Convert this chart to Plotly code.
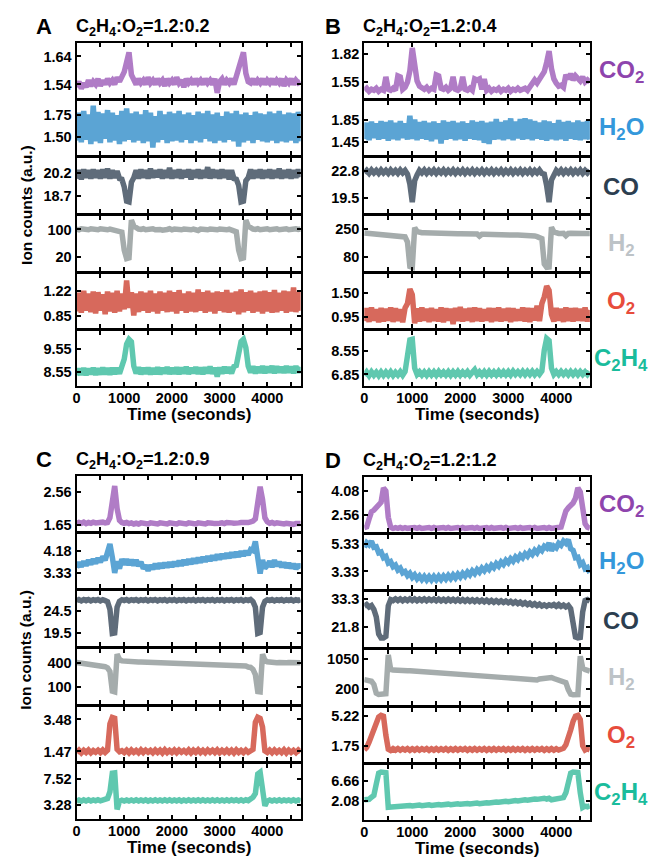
import plotly.graph_objects as go

W, H = 651, 867
TIME = list(range(0, 4701, 50))  # sampling grid, seconds (95 points)

GASES = ["CO2", "H2O", "CO", "H2", "O2", "C2H4"]
GAS_LABELS = ["CO<sub>2</sub>", "H<sub>2</sub>O", "CO", "H<sub>2</sub>", "O<sub>2</sub>", "C<sub>2</sub>H<sub>4</sub>"]
LINE_COLORS = ["#b07cc6", "#5ba4d4", "#5f6c7a", "#a5acac", "#d7695c", "#5fc8af"]
LABEL_COLORS = ["#8e44ad", "#3498db", "#2c3e50", "#bdc3c7", "#e74c3c", "#1abc9c"]
X_TICKS = [0, 500, 1000, 1500, 2000, 2500, 3000, 3500, 4000, 4500]
X_TICKTEXT = ["0", "", "1000", "", "2000", "", "3000", "", "4000", ""]

# ---------------- Panel A : C2H4:O2 = 1.2:0.2 ----------------
A_CO2 = [
    1.53, 1.55, 1.525, 1.545, 1.53, 1.555, 1.535, 1.55, 1.54, 1.56,
    1.535, 1.555, 1.54, 1.56, 1.545, 1.555, 1.54, 1.565, 1.55, 1.565,
    1.585, 1.62, 1.655, 1.575, 1.55, 1.54, 1.56, 1.545, 1.555, 1.54,
    1.565, 1.545, 1.555, 1.54, 1.56, 1.545, 1.555, 1.535, 1.56, 1.545,
    1.555, 1.54, 1.565, 1.545, 1.555, 1.53, 1.56, 1.545, 1.555, 1.54,
    1.56, 1.545, 1.555, 1.54, 1.56, 1.545, 1.555, 1.54, 1.56, 1.51,
    1.55, 1.56, 1.54, 1.555, 1.545, 1.56, 1.54, 1.565, 1.59, 1.63,
    1.655, 1.58, 1.55, 1.545, 1.56, 1.54, 1.555, 1.545, 1.56, 1.54,
    1.555, 1.545, 1.56, 1.54, 1.555, 1.545, 1.56, 1.535, 1.555, 1.545,
    1.56, 1.54, 1.555, 1.545, 1.55]
A_H2O = [
    1.46, 1.78, 1.44, 1.80, 1.47, 1.76, 1.42, 1.86, 1.45, 1.79,
    1.43, 1.77, 1.48, 1.81, 1.44, 1.78, 1.46, 1.75, 1.42, 1.80,
    1.45, 1.83, 1.47, 1.77, 1.44, 1.79, 1.46, 1.76, 1.43, 1.81,
    1.45, 1.78, 1.38, 1.74, 1.44, 1.80, 1.47, 1.76, 1.43, 1.79,
    1.45, 1.77, 1.46, 1.80, 1.44, 1.76, 1.47, 1.78, 1.43, 1.75,
    1.46, 1.79, 1.44, 1.77, 1.48, 1.80, 1.45, 1.76, 1.43, 1.78,
    1.46, 1.74, 1.44, 1.79, 1.47, 1.77, 1.45, 1.80, 1.39, 1.76,
    1.44, 1.78, 1.46, 1.75, 1.43, 1.79, 1.47, 1.77, 1.45, 1.76,
    1.44, 1.79, 1.46, 1.77, 1.43, 1.80, 1.45, 1.76, 1.44, 1.78,
    1.46, 1.77, 1.43, 1.79, 1.45]
A_CO = [
    19.85, 20.4, 19.8, 20.45, 19.9, 20.4, 19.85, 20.45, 19.9, 20.4,
    19.85, 20.45, 19.9, 20.5, 19.85, 20.4, 19.9, 20.35, 19.85, 19.8,
    19.3, 18.35, 18.3, 19.6, 19.9, 20.4, 19.85, 20.45, 19.9, 20.4,
    19.85, 20.5, 19.9, 20.4, 19.95, 20.45, 19.85, 20.4, 19.9, 20.55,
    19.85, 20.4, 19.9, 20.45, 19.85, 20.4, 19.95, 20.45, 19.8, 20.4,
    19.9, 20.45, 19.85, 20.4, 19.9, 20.6, 19.85, 20.45, 19.9, 20.4,
    19.85, 20.45, 19.9, 20.4, 19.8, 20.4, 19.85, 19.8, 19.4, 18.3,
    18.35, 19.7, 19.9, 20.45, 19.85, 20.4, 19.9, 20.45, 19.85, 20.4,
    19.9, 20.45, 19.85, 20.4, 19.9, 20.5, 19.85, 20.4, 19.9, 20.45,
    19.85, 20.4, 19.9, 20.45, 19.95]
A_H2 = [
    101, 99, 102, 100, 101, 99, 102, 100, 101, 99,
    102, 100, 101, 99, 101, 100, 98, 97, 95, 92,
    40, 15, 17, 127, 110, 103, 101, 100, 102, 99,
    101, 100, 102, 99, 101, 100, 98, 101, 100, 102,
    99, 101, 100, 102, 99, 101, 100, 102, 99, 101,
    100, 97, 101, 100, 102, 99, 101, 100, 102, 99,
    101, 100, 102, 99, 101, 98, 96, 93, 40, 15,
    17, 127, 110, 103, 101, 100, 102, 99, 101, 100,
    102, 99, 101, 100, 102, 99, 101, 100, 102, 99,
    101, 100, 102, 100, 101]
A_O2 = [
    0.92, 1.19, 0.90, 1.22, 0.93, 1.18, 0.91, 1.21, 0.89, 1.20,
    0.93, 1.17, 0.88, 1.21, 0.92, 1.19, 0.90, 1.22, 0.92, 1.18,
    0.95, 1.37, 0.97, 1.20, 0.86, 1.18, 0.91, 1.21, 0.93, 1.19,
    0.90, 1.22, 0.92, 1.18, 0.89, 1.21, 0.93, 1.19, 0.91, 1.22,
    0.92, 1.20, 0.89, 1.23, 0.93, 1.18, 0.90, 1.21, 0.92, 1.19,
    0.91, 1.24, 0.93, 1.20, 0.90, 1.22, 0.92, 1.19, 0.89, 1.21,
    0.93, 1.20, 0.91, 1.23, 0.90, 1.19, 0.92, 1.21, 0.88, 1.24,
    0.91, 1.20, 0.93, 1.22, 0.90, 1.19, 0.92, 1.21, 0.89, 1.22,
    0.92, 1.20, 0.90, 1.23, 0.91, 1.19, 0.93, 1.22, 0.90, 1.21,
    0.92, 1.27, 0.91, 1.20, 0.93]
A_C2H4 = [
    8.40, 8.68, 8.43, 8.71, 8.41, 8.69, 8.45, 8.72, 8.42, 8.70,
    8.44, 8.73, 8.45, 8.70, 8.43, 8.72, 8.46, 8.71, 8.47, 8.76,
    9.10, 9.75, 9.95, 9.85, 8.80, 8.48, 8.74, 8.45, 8.72, 8.47,
    8.73, 8.44, 8.71, 8.46, 8.74, 8.45, 8.72, 8.48, 8.75, 8.46,
    8.72, 8.47, 8.74, 8.45, 8.73, 8.48, 8.76, 8.46, 8.72, 8.49,
    8.75, 8.47, 8.73, 8.45, 8.74, 8.49, 8.77, 8.47, 8.73, 8.35,
    8.74, 8.48, 8.76, 8.50, 8.75, 8.48, 8.78, 8.82, 9.45, 9.85,
    9.95, 9.60, 8.80, 8.52, 8.78, 8.49, 8.76, 8.51, 8.79, 8.50,
    8.77, 8.52, 8.80, 8.50, 8.78, 8.53, 8.76, 8.51, 8.79, 8.52,
    8.77, 8.50, 8.79, 8.52, 8.76]

# ---------------- Panel B : C2H4:O2 = 1.2:0.4 ----------------
B_CO2 = [
    1.47, 1.49, 1.46, 1.48, 1.47, 1.49, 1.46, 1.48, 1.47, 1.60,
    1.48, 1.47, 1.49, 1.47, 1.61, 1.60, 1.48, 1.50, 1.55, 1.66,
    1.88, 1.70, 1.56, 1.51, 1.49, 1.48, 1.50, 1.47, 1.49, 1.48,
    1.62, 1.61, 1.49, 1.48, 1.50, 1.47, 1.49, 1.60, 1.48, 1.47,
    1.49, 1.60, 1.48, 1.47, 1.49, 1.47, 1.58, 1.57, 1.58, 1.48,
    1.58, 1.47, 1.49, 1.46, 1.48, 1.47, 1.49, 1.46, 1.48, 1.47,
    1.49, 1.46, 1.48, 1.47, 1.49, 1.47, 1.48, 1.49, 1.47, 1.50,
    1.55, 1.57, 1.54, 1.58, 1.60, 1.65, 1.74, 1.85, 1.68, 1.58,
    1.54, 1.51, 1.52, 1.50, 1.62, 1.58, 1.63, 1.57, 1.61, 1.58,
    1.56, 1.60, 1.55, 1.57, 1.55]
B_H2O = [
    1.50, 1.80, 1.48, 1.82, 1.52, 1.79, 1.49, 1.83, 1.51, 1.81,
    1.47, 1.84, 1.50, 1.80, 1.48, 1.83, 1.52, 1.79, 1.49, 1.93,
    1.50, 1.86, 1.48, 1.81, 1.51, 1.83, 1.49, 1.80, 1.46, 1.82,
    1.50, 1.79, 1.42, 1.84, 1.49, 1.81, 1.51, 1.83, 1.48, 1.80,
    1.50, 1.82, 1.47, 1.79, 1.51, 1.84, 1.49, 1.81, 1.48, 1.83,
    1.43, 1.80, 1.41, 1.82, 1.49, 1.87, 1.50, 1.81, 1.48, 1.84,
    1.50, 1.88, 1.48, 1.82, 1.51, 1.87, 1.49, 1.88, 1.50, 1.86,
    1.48, 1.83, 1.51, 1.80, 1.49, 1.84, 1.47, 1.82, 1.50, 1.79,
    1.48, 1.85, 1.50, 1.81, 1.47, 1.83, 1.51, 1.80, 1.49, 1.84,
    1.48, 1.81, 1.50, 1.83, 1.49]
B_CO = [
    22.55, 22.85, 22.5, 22.9, 22.55, 22.85, 22.5, 22.9, 22.55, 22.85,
    22.5, 22.9, 22.55, 22.85, 22.5, 22.9, 22.55, 22.85, 22.4, 21.2,
    19.0, 21.6, 22.3, 22.85, 22.55, 22.9, 22.5, 22.85, 22.55, 22.9,
    22.5, 22.85, 22.55, 22.9, 22.5, 22.85, 22.55, 22.9, 22.5, 22.85,
    22.55, 22.9, 22.5, 22.85, 22.55, 22.9, 22.5, 22.85, 22.55, 22.9,
    22.5, 22.85, 22.55, 22.9, 22.5, 22.85, 22.55, 22.9, 22.5, 22.85,
    22.55, 22.9, 22.5, 22.85, 22.55, 22.9, 22.5, 22.85, 22.55, 22.9,
    22.5, 22.85, 22.55, 22.9, 22.5, 22.4, 21.0, 19.0, 21.7, 22.3,
    22.85, 22.55, 22.9, 22.5, 22.85, 22.55, 22.9, 22.5, 22.85, 22.55,
    22.9, 22.5, 22.85, 22.55, 22.85]
B_H2 = [
    224, 223, 222, 221, 220, 219, 218, 217, 216, 215,
    214, 213, 212, 211, 210, 209, 208, 200, 170, 25,
    20, 255, 232, 226, 225, 225, 224, 224, 223, 223,
    223, 222, 222, 222, 221, 221, 220, 220, 220, 219,
    219, 219, 218, 218, 218, 217, 217, 218, 205, 216,
    216, 215, 215, 215, 214, 214, 214, 213, 213, 213,
    212, 212, 212, 211, 211, 211, 210, 210, 205, 207,
    209, 206, 202, 196, 190, 40, 20, 22, 258, 230,
    222, 221, 221, 222, 208, 221, 222, 220, 221, 221,
    221, 220, 221, 220, 221]
B_O2 = [
    0.85, 1.14, 0.83, 1.16, 0.86, 1.12, 0.82, 1.15, 0.84, 1.13,
    0.86, 1.16, 0.83, 1.14, 0.85, 1.12, 0.82, 1.15, 1.25, 1.58,
    1.45, 0.80, 1.14, 0.84, 1.16, 0.86, 1.13, 0.83, 1.15, 0.85,
    1.12, 0.84, 1.16, 0.82, 1.14, 0.86, 1.13, 0.78, 1.15, 0.85,
    1.17, 0.84, 1.13, 0.86, 1.15, 0.83, 1.16, 0.85, 1.14, 0.84,
    1.12, 0.86, 1.15, 0.83, 1.14, 0.85, 1.16, 0.84, 1.13, 0.86,
    1.15, 0.83, 1.14, 0.85, 1.12, 0.86, 1.16, 0.84, 1.15, 0.83,
    1.14, 0.86, 1.20, 0.85, 1.25, 1.40, 1.65, 1.55, 1.00, 0.84,
    1.15, 0.86, 1.13, 0.83, 1.16, 0.85, 1.14, 0.84, 1.15, 0.86,
    1.13, 0.85, 1.16, 0.84, 1.10]
B_C2H4 = [
    6.78, 7.02, 6.76, 7.04, 6.80, 7.01, 6.77, 7.03, 6.79, 7.02,
    6.80, 7.04, 6.78, 7.01, 6.81, 7.05, 6.79, 7.06, 8.20, 9.35,
    9.40, 7.30, 6.85, 7.04, 6.81, 7.03, 6.79, 7.05, 6.82, 7.04,
    6.80, 7.06, 6.83, 7.03, 6.81, 7.05, 6.80, 7.04, 6.82, 7.06,
    6.81, 7.03, 6.83, 7.05, 6.80, 7.06, 7.20, 6.84, 7.04, 6.82,
    7.05, 6.81, 7.06, 6.83, 7.04, 6.82, 7.07, 6.84, 7.05, 6.83,
    7.06, 6.82, 7.08, 6.85, 7.05, 6.84, 7.07, 6.83, 7.06, 6.85,
    7.08, 6.84, 7.06, 6.86, 7.10, 8.60, 9.45, 9.30, 7.30, 6.85,
    7.06, 6.84, 7.07, 6.85, 7.05, 6.83, 7.06, 6.84, 7.05, 6.83,
    7.06, 6.85, 7.04, 6.84, 7.05]

# ---------------- Panel C : C2H4:O2 = 1.2:0.9 ----------------
C_CO2 = [
    1.69, 1.72, 1.70, 1.73, 1.69, 1.72, 1.70, 1.73, 1.71, 1.72,
    1.70, 1.73, 1.71, 1.72, 1.85, 2.30, 2.72, 2.10, 1.78, 1.72,
    1.70, 1.72, 1.69, 1.71, 1.68, 1.70, 1.68, 1.71, 1.69, 1.70,
    1.68, 1.71, 1.69, 1.70, 1.68, 1.71, 1.69, 1.70, 1.68, 1.71,
    1.69, 1.70, 1.68, 1.71, 1.69, 1.70, 1.68, 1.71, 1.69, 1.70,
    1.68, 1.71, 1.69, 1.70, 1.68, 1.71, 1.69, 1.70, 1.69, 1.71,
    1.70, 1.71, 1.69, 1.72, 1.70, 1.71, 1.70, 1.72, 1.71, 1.72,
    1.71, 1.73, 1.72, 1.74, 1.76, 1.82, 2.25, 2.70, 2.35, 1.85,
    1.74, 1.70, 1.72, 1.69, 1.71, 1.69, 1.70, 1.68, 1.70, 1.68,
    1.69, 1.67, 1.69, 1.68, 1.69]
C_H2O = [
    3.55, 3.75, 3.59, 3.79, 3.63, 3.83, 3.67, 3.87, 3.71, 3.91,
    3.76, 3.97, 3.83, 4.07, 4.45, 3.95, 3.35, 3.79, 3.51, 3.87,
    3.66, 3.86, 3.65, 3.85, 3.63, 3.84, 3.61, 3.77, 3.51, 3.64,
    3.43, 3.64, 3.49, 3.69, 3.51, 3.71, 3.54, 3.73, 3.56, 3.75,
    3.58, 3.77, 3.61, 3.80, 3.63, 3.83, 3.66, 3.86, 3.69, 3.89,
    3.72, 3.92, 3.75, 3.95, 3.78, 3.98, 3.81, 4.01, 3.84, 4.04,
    3.87, 4.06, 3.90, 4.09, 3.92, 4.12, 3.95, 4.14, 3.97, 4.17,
    4.00, 4.19, 4.03, 4.24, 4.20, 4.55, 3.95, 3.32, 3.84, 3.53,
    3.63, 3.79, 3.57, 3.83, 3.61, 3.77, 3.57, 3.74, 3.55, 3.72,
    3.53, 3.69, 3.50, 3.67, 3.52]
C_CO = [
    27.0, 27.3, 27.0, 27.3, 27.05, 27.3, 27.0, 27.25, 27.05, 27.3,
    27.0, 27.25, 27.05, 26.8, 25.0, 19.3, 19.4, 25.5, 26.9, 27.25,
    27.05, 27.3, 27.0, 27.25, 27.05, 27.3, 27.0, 27.25, 27.05, 27.3,
    27.0, 27.25, 27.05, 27.3, 27.0, 27.25, 27.05, 27.3, 27.0, 27.25,
    27.05, 27.3, 27.0, 27.25, 27.05, 27.3, 27.0, 27.25, 27.05, 27.3,
    27.0, 27.25, 27.05, 27.3, 27.0, 27.25, 27.05, 27.3, 27.0, 27.25,
    27.05, 27.3, 27.0, 27.25, 27.05, 27.3, 27.0, 27.25, 27.05, 27.3,
    27.0, 27.25, 27.05, 27.3, 26.8, 25.5, 19.3, 19.5, 25.5, 26.9,
    27.25, 27.05, 27.3, 27.0, 27.25, 27.05, 27.3, 27.0, 27.25, 27.05,
    27.3, 27.0, 27.25, 27.05, 27.3]
C_H2 = [
    402, 398, 396, 392, 390, 386, 382, 378, 374, 370,
    364, 358, 350, 335, 290, 45, 36, 505, 440, 422,
    418, 416, 414, 412, 411, 410, 409, 408, 407, 406,
    405, 404, 403, 402, 401, 400, 399, 398, 397, 396,
    395, 394, 393, 392, 391, 390, 389, 388, 387, 386,
    385, 384, 383, 382, 381, 380, 379, 378, 377, 376,
    375, 374, 373, 372, 371, 370, 369, 368, 366, 364,
    360, 358, 345, 340, 315, 250, 40, 36, 505, 430,
    412, 405, 402, 401, 400, 401, 395, 401, 400, 401,
    400, 401, 400, 401, 400]
C_O2 = [
    1.40, 1.55, 1.38, 1.54, 1.41, 1.56, 1.39, 1.53, 1.42, 1.55,
    1.40, 1.56, 1.41, 1.55, 3.20, 3.60, 3.55, 1.60, 1.45, 1.52,
    1.40, 1.55, 1.38, 1.56, 1.41, 1.53, 1.39, 1.57, 1.40, 1.55,
    1.42, 1.54, 1.39, 1.56, 1.41, 1.55, 1.38, 1.57, 1.40, 1.54,
    1.41, 1.56, 1.39, 1.55, 1.42, 1.53, 1.40, 1.56, 1.38, 1.55,
    1.41, 1.57, 1.40, 1.54, 1.39, 1.56, 1.42, 1.55, 1.40, 1.57,
    1.39, 1.54, 1.41, 1.56, 1.40, 1.55, 1.38, 1.57, 1.41, 1.54,
    1.40, 1.56, 1.42, 1.55, 1.60, 3.30, 3.62, 3.55, 3.00, 1.50,
    1.40, 1.55, 1.39, 1.56, 1.41, 1.54, 1.40, 1.57, 1.38, 1.55,
    1.41, 1.54, 1.40, 1.56, 1.42]
C_C2H4 = [
    3.95, 4.15, 3.97, 4.17, 4.00, 4.18, 3.99, 4.16, 4.01, 4.19,
    4.02, 4.20, 4.15, 4.40, 5.50, 8.55, 8.60, 2.60, 3.95, 4.12,
    3.98, 4.16, 3.97, 4.15, 3.99, 4.17, 3.98, 4.16, 4.00, 4.18,
    3.97, 4.15, 3.99, 4.17, 3.98, 4.16, 4.00, 4.18, 3.99, 4.17,
    3.98, 4.16, 4.00, 4.18, 3.97, 4.15, 3.99, 4.17, 3.98, 4.16,
    4.00, 4.18, 3.99, 4.17, 3.98, 4.16, 4.00, 4.18, 3.99, 4.17,
    3.98, 4.16, 4.00, 4.18, 3.99, 4.17, 4.01, 4.19, 4.00, 4.18,
    4.00, 4.18, 4.05, 4.35, 4.60, 5.20, 8.40, 8.70, 5.00, 3.20,
    3.98, 4.15, 3.97, 4.16, 3.99, 4.17, 3.98, 4.15, 4.00, 4.16,
    3.98, 4.17, 3.99, 4.15, 4.00]

# ---------------- Panel D : C2H4:O2 = 1.2:1.2 ----------------
D_CO2 = [
    1.75, 1.80, 2.30, 2.75, 2.85, 3.00, 3.15, 3.35, 4.25, 4.05,
    2.40, 1.78, 1.70, 1.76, 1.71, 1.77, 1.70, 1.76, 1.71, 1.75,
    1.70, 1.76, 1.71, 1.77, 1.70, 1.75, 1.71, 1.76, 1.70, 1.77,
    1.71, 1.75, 1.70, 1.76, 1.71, 1.77, 1.70, 1.75, 1.71, 1.76,
    1.70, 1.77, 1.71, 1.75, 1.70, 1.76, 1.71, 1.77, 1.70, 1.75,
    1.71, 1.76, 1.70, 1.77, 1.71, 1.75, 1.70, 1.76, 1.71, 1.77,
    1.70, 1.75, 1.71, 1.76, 1.70, 1.77, 1.71, 1.75, 1.70, 1.76,
    1.71, 1.77, 1.70, 1.75, 1.71, 1.76, 1.70, 1.77, 1.71, 1.75,
    1.70, 1.76, 1.80, 2.30, 2.80, 3.00, 3.15, 3.30, 3.60, 4.25,
    4.00, 2.80, 2.00, 1.78, 1.72]
D_H2O = [
    5.08, 5.42, 5.26, 5.52, 5.08, 5.12, 4.68, 4.74, 4.33, 4.42,
    3.94, 4.04, 3.68, 3.80, 3.44, 3.57, 3.23, 3.33, 3.03, 3.20,
    2.90, 3.09, 2.80, 3.00, 2.74, 2.97, 2.72, 2.96, 2.72, 2.97,
    2.73, 2.98, 2.75, 3.00, 2.78, 3.04, 2.82, 3.08, 2.86, 3.13,
    2.92, 3.20, 3.00, 3.28, 3.08, 3.37, 3.18, 3.47, 3.28, 3.57,
    3.38, 3.67, 3.48, 3.78, 3.60, 3.90, 3.72, 4.02, 3.84, 4.14,
    3.96, 4.26, 4.08, 4.38, 4.20, 4.50, 4.32, 4.62, 4.44, 4.74,
    4.56, 4.86, 4.68, 5.00, 4.84, 5.16, 5.03, 5.40, 4.83, 5.17,
    5.04, 5.37, 5.23, 5.54, 5.38, 5.64, 4.98, 4.87, 4.33, 4.37,
    3.83, 3.97, 3.53, 3.62, 3.23]
D_CO = [
    30.3, 31.0, 30.0, 30.6, 29.0, 26.0, 19.0, 17.4, 17.4, 18.0,
    30.5, 33.0, 32.6, 33.3, 32.6, 33.3, 32.5, 33.2, 32.6, 33.3,
    32.6, 33.3, 32.5, 33.2, 32.6, 33.3, 32.5, 33.2, 32.6, 33.2,
    32.5, 33.2, 32.5, 33.1, 32.4, 33.2, 32.5, 33.1, 32.4, 33.1,
    32.4, 33.0, 32.3, 33.0, 32.3, 32.9, 32.2, 32.9, 32.2, 32.8,
    32.1, 32.8, 32.0, 32.7, 31.9, 32.6, 31.9, 32.5, 31.8, 32.4,
    31.7, 32.3, 31.5, 32.2, 31.4, 32.0, 31.2, 31.8, 31.0, 31.6,
    30.8, 31.4, 30.6, 31.2, 30.4, 30.9, 30.3, 30.9, 30.5, 31.0,
    30.3, 31.0, 30.2, 30.8, 30.0, 30.6, 29.3, 22.0, 17.8, 17.4,
    17.6, 28.0, 32.6, 33.0, 32.4]
D_H2 = [
    470, 462, 440, 421, 330, 80, 40, 34, 36, 60,
    1180, 760, 742, 745, 738, 735, 730, 728, 725, 720,
    716, 712, 708, 704, 700, 696, 692, 688, 684, 680,
    668, 664, 660, 655, 650, 646, 642, 638, 634, 630,
    626, 622, 618, 614, 610, 606, 602, 598, 594, 590,
    596, 583, 578, 572, 566, 560, 554, 548, 542, 530,
    518, 512, 505, 498, 490, 482, 474, 466, 458, 450,
    452, 455, 458, 485, 500, 505, 520, 546, 530, 500,
    470, 455, 440, 421, 380, 180, 50, 34, 36, 40,
    1141, 807, 760, 720, 710]
D_O2 = [
    1.30, 1.60, 2.20, 2.90, 3.50, 4.30, 5.10, 5.30, 5.20, 3.00,
    1.40, 1.25, 1.45, 1.28, 1.46, 1.27, 1.44, 1.29, 1.47, 1.26,
    1.45, 1.28, 1.46, 1.27, 1.44, 1.30, 1.47, 1.26, 1.45, 1.28,
    1.46, 1.27, 1.44, 1.29, 1.47, 1.26, 1.45, 1.28, 1.46, 1.27,
    1.44, 1.30, 1.47, 1.26, 1.45, 1.28, 1.46, 1.27, 1.44, 1.29,
    1.47, 1.26, 1.45, 1.28, 1.46, 1.27, 1.44, 1.30, 1.47, 1.26,
    1.45, 1.28, 1.46, 1.27, 1.44, 1.29, 1.47, 1.26, 1.45, 1.28,
    1.46, 1.27, 1.44, 1.30, 1.47, 1.26, 1.45, 1.28, 1.46, 1.27,
    1.44, 1.29, 1.47, 1.50, 1.90, 2.60, 3.60, 4.60, 5.20, 5.30,
    4.80, 1.80, 1.30, 1.45, 1.30]
D_C2H4 = [
    2.40, 2.55, 2.50, 3.00, 3.40, 6.00, 8.50, 8.75, 8.70, 8.60,
    0.70, 0.75, 0.72, 0.95, 0.85, 1.05, 0.90, 1.08, 0.95, 1.10,
    0.98, 1.15, 1.02, 1.18, 1.05, 1.22, 1.08, 1.25, 1.12, 1.28,
    1.15, 1.32, 1.20, 1.36, 1.24, 1.40, 1.28, 1.44, 1.32, 1.48,
    1.36, 1.52, 1.40, 1.56, 1.44, 1.60, 1.48, 1.64, 1.52, 1.68,
    1.58, 1.74, 1.66, 1.82, 1.74, 1.90, 1.82, 1.98, 1.90, 2.06,
    1.98, 2.14, 2.06, 2.22, 2.14, 2.30, 2.22, 2.38, 2.30, 2.46,
    2.40, 2.56, 2.50, 2.66, 2.60, 2.76, 2.58, 2.74, 2.40, 2.50,
    2.55, 2.70, 2.62, 2.90, 4.00, 6.30, 8.50, 8.75, 8.70, 8.65,
    4.00, 0.65, 0.95, 0.80, 1.00]

# y ranges and tick labels of each stacked axis
A_YRANGES = [[1.493, 1.689], [1.29, 1.92], [17.57, 21.19], [-20, 139], [0.67, 1.47], [7.93, 10.29]]
A_YTICKS = [["1.54", "1.64"], ["1.50", "1.75"], ["18.7", "20.2"], ["20", "100"], ["0.85", "1.22"], ["8.55", "9.55"]]
B_YRANGES = [[1.40, 1.93], [1.20, 2.21], [17.69, 24.33], [0, 324], [0.68, 1.93], [6.0, 9.96]]
B_YTICKS = [["1.55", "1.82"], ["1.45", "1.85"], ["19.5", "22.8"], ["80", "250"], ["0.95", "1.50"], ["6.85", "8.55"]]
C_YRANGES = [[1.50, 3.00], [2.76, 4.85], [16.33, 29.26], [-114, 571], [0.84, 4.28], [1.0, 9.97]]
C_YTICKS = [["1.65", "2.56"], ["3.33", "4.18"], ["19.5", "24.5"], ["100", "400"], ["1.47", "3.48"], ["3.28", "7.52"]]
D_YRANGES = [[1.51, 4.95], [2.04, 6.01], [13.7, 36.0], [-254, 1320], [-0.14, 6.17], [-2.27, 10.25]]
D_YTICKS = [["2.56", "4.08"], ["3.33", "5.33"], ["21.8", "33.3"], ["200", "1050"], ["1.75", "5.22"], ["2.08", "6.66"]]

PANELS = [
    dict(letter="A", ratio="0.2", series=[A_CO2, A_H2O, A_CO, A_H2, A_O2, A_C2H4],
         yr=A_YRANGES, yt=A_YTICKS, left=73, right=298.5, top=42, labels=False),
    dict(letter="B", ratio="0.4", series=[B_CO2, B_H2O, B_CO, B_H2, B_O2, B_C2H4],
         yr=B_YRANGES, yt=B_YTICKS, left=362.5, right=589.5, top=42, labels=True),
    dict(letter="C", ratio="0.9", series=[C_CO2, C_H2O, C_CO, C_H2, C_O2, C_C2H4],
         yr=C_YRANGES, yt=C_YTICKS, left=73, right=298.5, top=477, labels=False),
    dict(letter="D", ratio="1.2", series=[D_CO2, D_H2O, D_CO, D_H2, D_O2, D_C2H4],
         yr=D_YRANGES, yt=D_YTICKS, left=362.5, right=589.5, top=478, labels=True),
]

SUB_H, SUB_STEP = 55, 58
FONT = "Liberation Sans, Arial, sans-serif"
TICKFONT = dict(family=FONT, size=14.5, color="black", weight="bold")


def px_x(v):
    return v / W


def px_y(v):
    return 1 - v / H


fig = go.Figure()
layout = {}
annotations = []

for p, panel in enumerate(PANELS):
    for r in range(6):
        k = p * 6 + r + 1
        xs = "" if k == 1 else str(k)
        top = panel["top"] + r * SUB_STEP
        bottom = top + SUB_H
        fig.add_trace(go.Scatter(
            x=TIME, y=panel["series"][r], xaxis="x" + xs, yaxis="y" + xs,
            mode="lines", line=dict(color=LINE_COLORS[r], width=5.5),
            showlegend=False, hoverinfo="skip"))
        common = dict(ticks="inside", ticklen=4, tickwidth=1.5, tickcolor="black",
                      mirror="ticks", showline=True, linewidth=2, linecolor="black",
                      showgrid=False, zeroline=False, tickfont=TICKFONT, fixedrange=True)
        layout["xaxis" + xs] = dict(
            domain=[px_x(panel["left"]), px_x(panel["right"])], anchor="y" + xs,
            range=[0, 4700], tickvals=X_TICKS, ticktext=X_TICKTEXT,
            showticklabels=(r == 5), ticklabelstandoff=-3, **common)
        labels = panel["yt"][r]
        layout["yaxis" + xs] = dict(
            domain=[px_y(bottom), px_y(top)], anchor="x" + xs,
            range=panel["yr"][r], tickvals=[float(s) for s in labels], ticktext=labels,
            **common)
        if panel["labels"]:
            annotations.append(dict(
                x=px_x(621), y=px_y(top + SUB_H / 2 + 1), xref="paper", yref="paper",
                text=GAS_LABELS[r], showarrow=False, xanchor="center", yanchor="middle",
                font=dict(family=FONT, size=24, color=LABEL_COLORS[r], weight="bold")))

    ptop = panel["top"]
    letter_x = 40 if panel["left"] < 100 else 331
    annotations.append(dict(
        x=px_x(letter_x), y=px_y(ptop - 16), xref="paper", yref="paper",
        text=panel["letter"], showarrow=False, xanchor="center", yanchor="middle",
        font=dict(family=FONT, size=22, color="black", weight="bold")))
    annotations.append(dict(
        x=px_x(panel["left"] - 3), y=px_y(ptop - 15), xref="paper", yref="paper",
        text="C<sub>2</sub>H<sub>4</sub>:O<sub>2</sub>=1.2:" + panel["ratio"],
        showarrow=False, xanchor="left", yanchor="middle",
        font=dict(family=FONT, size=18, color="black", weight="bold")))
    center_x = (panel["left"] + panel["right"]) / 2
    annotations.append(dict(
        x=px_x(center_x), y=px_y(ptop + 5 * SUB_STEP + SUB_H + 28), xref="paper", yref="paper",
        text="Time (seconds)", showarrow=False, xanchor="center", yanchor="middle",
        font=dict(family=FONT, size=17, color="black", weight="bold")))

for yc in (205, 652):
    annotations.append(dict(
        x=px_x(22), y=px_y(yc), xref="paper", yref="paper", text="Ion counts (a.u.)",
        textangle=-90, showarrow=False, xanchor="center", yanchor="middle",
        font=dict(family=FONT, size=15.5, color="black", weight="bold")))

fig.update_layout(
    width=W, height=H, margin=dict(l=0, r=0, t=0, b=0),
    paper_bgcolor="white", plot_bgcolor="white",
    annotations=annotations, **layout)

fig.write_html("out.html")
